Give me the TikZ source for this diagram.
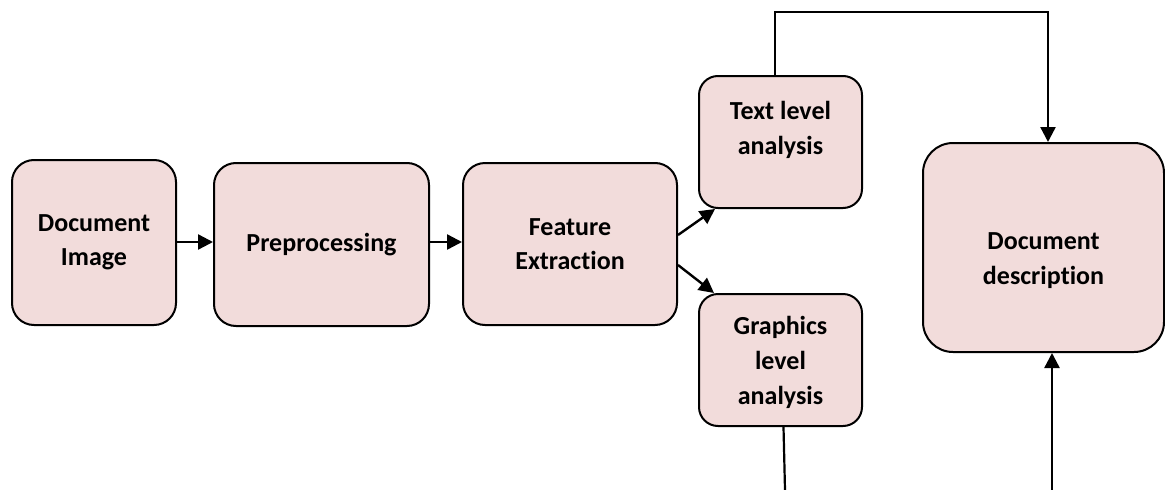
\documentclass[tikz,border=0pt]{standalone}
\usepackage{fontspec}
\setmainfont{Carlito}[Ligatures=NoCommon]
\usetikzlibrary{arrows.meta,calc}
\definecolor{boxfill}{HTML}{F2DCDB}
\tikzset{
  stage/.style={draw=black, line width=2pt, fill=boxfill, rounded corners=#1,
    inner sep=0pt, align=center,
    font=\fontsize{26}{34}\selectfont\bfseries},
  stage/.default=22pt,
  caption/.style={inner sep=0pt, align=center,
    font=\fontsize{26}{35}\selectfont\bfseries},
  flow/.style={line width=2.4pt, -{Triangle[length=15pt,width=15pt]}},
  wire/.style={line width=2.2pt}
}
\begin{document}
\begin{tikzpicture}[x=1pt,y=-1pt]
  \useasboundingbox (0,0) rectangle (1165,490);

  % processing stages
  \node[stage, minimum width=164pt, minimum height=165pt] (img)  at (94,242.5)    {Document\\Image};
  \node[stage, minimum width=215pt, minimum height=163pt] (prep) at (321.5,244.5) {Preprocessing};
  \node[stage, minimum width=214pt, minimum height=162pt] (feat) at (570,244)     {Feature\\Extraction};
  \node[stage=19pt, minimum width=163pt, minimum height=132pt] (txt) at (780.5,142) {};
  \node[stage=19pt, minimum width=163pt, minimum height=132pt] (gfx) at (780.5,360) {};
  \node[stage=30pt, minimum width=241pt, minimum height=209pt] (desc) at (1043.5,247.5) {};

  % captions of the smaller stages, set off the box centres
  \node[caption] (txtText)  at ($(txt.center)+(0,-12)$)  {Text level\\analysis};
  \node[caption] (gfxText)  at ($(gfx.center)+(0,2)$)    {Graphics\\level\\analysis};
  \node[caption] (descText) at ($(desc.center)+(0,13)$)  {Document\\description};

  % routing points
  \coordinate (topL) at (775,12);
  \coordinate (topR) at (1048,12);
  \coordinate (gfxEnd) at (785,490);
  \coordinate (descIn) at (1052,490);

  % main chain
  \draw[flow] (img.east |- 0,242) -- (prep.west |- 0,242);
  \draw[flow] (prep.east |- 0,242) -- (feat.west |- 0,242);

  % split into the two analyses
  \draw[flow] ($(feat.east)+(0,-9)$) -- ($(txt.south west)+(17,0)$);
  \draw[flow] ($(feat.east)+(0,21)$) -- ($(gfx.north west)+(16,0)$);

  % text analysis feeds the description from above
  \draw[flow] (txt.north -| topL) -- (topL) -- (topR) -- (desc.north -| topR);

  % graphics analysis leaves downwards, description is fed from below
  \draw[wire] (gfx.south -| 783.5,0) -- (gfxEnd);
  \draw[flow] (descIn) -- (desc.south -| descIn);
\end{tikzpicture}
\end{document}
